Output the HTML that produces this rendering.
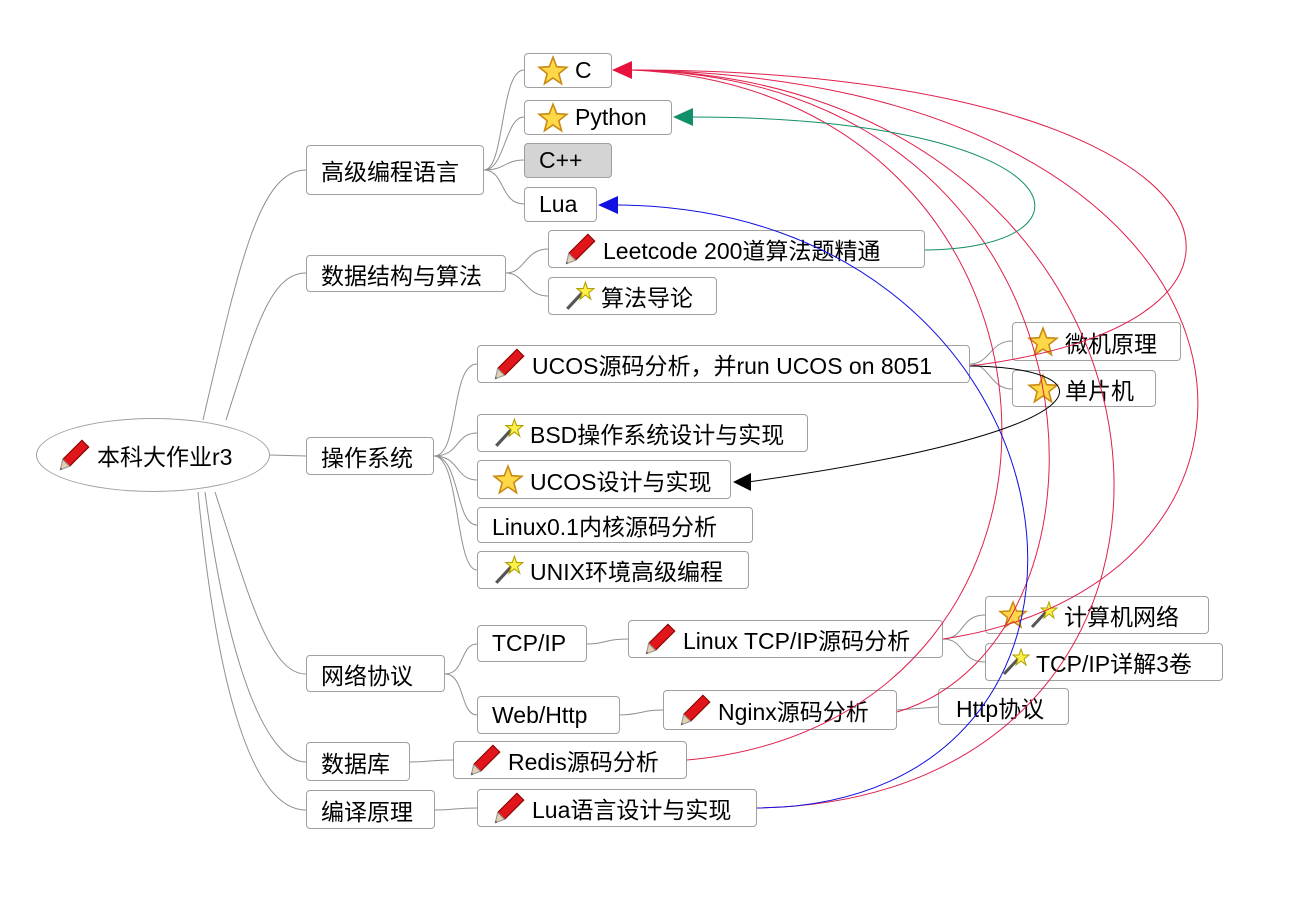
<!DOCTYPE html>
<html><head><meta charset="utf-8">
<style>
body{margin:0;width:1307px;height:911px;background:#fff;position:relative;overflow:hidden;font-family:"Liberation Sans","Noto Sans CJK SC",sans-serif;}
.b{position:absolute;box-sizing:border-box;border:1px solid #a0a0a0;border-radius:4px;background:#fff;font-size:23px;color:#000;display:flex;align-items:center;padding-left:14px;white-space:nowrap;}
.b svg{margin-right:6px;flex:none}
.g{background:#d4d4d4}
svg.l{position:absolute;left:0;top:0}
</style></head><body>
<svg width="0" height="0" style="position:absolute">
<defs>
<symbol id="star" viewBox="0 0 30 30"><polygon points="15,2 18.5,11 28,11.5 20.5,17.5 23,27 15,21.5 7,27 9.5,17.5 2,11.5 11.5,11" fill="#ffd84a" stroke="#c98a10" stroke-width="1.5"/></symbol>
<symbol id="pen" viewBox="0 0 30 30"><polygon points="22,2 28,8 11,25 5,19" fill="#e0161a" stroke="#8a0000"/><polygon points="5,19 11,25 3,28" fill="#e8d0b0" stroke="#999"/><polygon points="3,26 4.5,27.5 3,28" fill="#333"/></symbol>
<symbol id="wand" viewBox="0 0 30 30"><line x1="4" y1="27" x2="18" y2="12" stroke="#555" stroke-width="3"/><polygon points="21,2 23,8 29,8 24,12 26,18 21,14 16,18 18,12 13,8 19,8" fill="#fff04a" stroke="#b0a000"/></symbol>
</defs></svg>
<svg class="l" width="1307" height="911" fill="none" stroke="#909090" stroke-width="1">
<path d="M203,420 C240,260 260,170 306,170"/>
<path d="M226,420 C255,330 270,273 306,273"/>
<path d="M270,455 L306,456"/>
<path d="M215,492 C250,600 270,674 306,674"/>
<path d="M205,492 C230,680 270,762 306,762"/>
<path d="M198,492 C220,720 260,810 306,810"/>
<path d="M484,170 C505,170 500,70 524,70"/><path d="M484,170 C505,170 505,117 524,117"/><path d="M484,170 C505,170 505,160 524,160"/><path d="M484,170 C505,170 500,204 524,204"/>
<path d="M506,273 C525,273 525,249 548,249"/><path d="M506,273 C525,273 525,296 548,296"/>
<path d="M434,456 C460,456 450,364 477,364"/><path d="M434,456 C460,456 455,433 477,433"/><path d="M434,456 C460,456 455,480 477,480"/><path d="M434,456 C460,456 455,525 477,525"/><path d="M434,456 C460,456 455,570 477,570"/>
<path d="M445,674 C465,674 460,644 477,644"/><path d="M445,674 C465,674 460,715 477,715"/>
<path d="M587,644 C605,644 605,639 628,639"/><path d="M620,715 C640,715 640,710 663,710"/>
<path d="M943,639 C965,639 960,615 985,615"/><path d="M943,639 C965,639 960,662 985,662"/>
<path d="M897,710 L938,707"/>
<path d="M970,364 C990,364 990,341 1012,341"/><path d="M970,364 C990,364 990,389 1012,389"/>
<path d="M410,762 C430,762 430,760 453,760"/><path d="M435,810 C455,810 455,808 477,808"/>
</svg>
<div class="b" style="left:36px;top:418px;width:234px;height:74px;border-radius:50%;padding-left:20px;"><svg width="34" height="34"><use href="#pen"/></svg>本科大作业r3</div>
<div class="b" style="left:306px;top:145px;width:178px;height:50px">高级编程语言</div>
<div class="b" style="left:524px;top:53px;width:88px;height:35px;padding-left:12px"><svg width="32" height="32"><use href="#star"/></svg>C</div>
<div class="b" style="left:524px;top:100px;width:148px;height:35px;padding-left:12px"><svg width="32" height="32"><use href="#star"/></svg>Python</div>
<div class="b g" style="left:524px;top:143px;width:88px;height:35px;padding-left:14px">C++</div>
<div class="b" style="left:524px;top:187px;width:73px;height:35px;padding-left:14px">Lua</div>
<div class="b" style="left:306px;top:255px;width:200px;height:37px">数据结构与算法</div>
<div class="b" style="left:548px;top:230px;width:377px;height:38px"><svg width="34" height="34"><use href="#pen"/></svg>Leetcode 200道算法题精通</div>
<div class="b" style="left:548px;top:277px;width:169px;height:38px"><svg width="32" height="32"><use href="#wand"/></svg>算法导论</div>
<div class="b" style="left:306px;top:437px;width:128px;height:38px">操作系统</div>
<div class="b" style="left:477px;top:345px;width:493px;height:38px"><svg width="34" height="34"><use href="#pen"/></svg>UCOS源码分析，并run UCOS on 8051</div>
<div class="b" style="left:1012px;top:322px;width:169px;height:39px"><svg width="32" height="32"><use href="#star"/></svg>微机原理</div>
<div class="b" style="left:1012px;top:370px;width:144px;height:37px"><svg width="32" height="32"><use href="#star"/></svg>单片机</div>
<div class="b" style="left:477px;top:414px;width:331px;height:38px"><svg width="32" height="32"><use href="#wand"/></svg>BSD操作系统设计与实现</div>
<div class="b" style="left:477px;top:460px;width:254px;height:39px"><svg width="32" height="32"><use href="#star"/></svg>UCOS设计与实现</div>
<div class="b" style="left:477px;top:507px;width:276px;height:36px">Linux0.1内核源码分析</div>
<div class="b" style="left:477px;top:551px;width:272px;height:38px"><svg width="32" height="32"><use href="#wand"/></svg>UNIX环境高级编程</div>
<div class="b" style="left:306px;top:655px;width:139px;height:37px">网络协议</div>
<div class="b" style="left:477px;top:625px;width:110px;height:37px">TCP/IP</div>
<div class="b" style="left:477px;top:696px;width:143px;height:38px">Web/Http</div>
<div class="b" style="left:628px;top:620px;width:315px;height:38px"><svg width="34" height="34"><use href="#pen"/></svg>Linux TCP/IP源码分析</div>
<div class="b" style="left:985px;top:596px;width:224px;height:38px;padding-left:12px"><svg width="30" height="30" style="margin-right:0"><use href="#star"/></svg><svg width="30" height="30"><use href="#wand"/></svg>计算机网络</div>
<div class="b" style="left:985px;top:643px;width:238px;height:38px"><svg width="30" height="30"><use href="#wand"/></svg>TCP/IP详解3卷</div>
<div class="b" style="left:663px;top:690px;width:234px;height:40px"><svg width="34" height="34"><use href="#pen"/></svg>Nginx源码分析</div>
<div class="b" style="left:938px;top:688px;width:131px;height:37px;padding-left:17px">Http协议</div>
<div class="b" style="left:306px;top:742px;width:104px;height:39px">数据库</div>
<div class="b" style="left:453px;top:741px;width:234px;height:38px"><svg width="34" height="34"><use href="#pen"/></svg>Redis源码分析</div>
<div class="b" style="left:306px;top:790px;width:129px;height:39px">编译原理</div>
<div class="b" style="left:477px;top:789px;width:280px;height:38px"><svg width="34" height="34"><use href="#pen"/></svg>Lua语言设计与实现</div>
<svg class="l" width="1307" height="911" fill="none" stroke-width="1">
<g stroke="#e0204a">
<path d="M970,366 C1340,320 1240,70 632,70"/>
<path d="M943,639 C1340,580 1300,80 632,70"/>
<path d="M897,712 C1140,640 1120,80 632,70"/>
<path d="M687,760 C1130,720 1100,90 632,70"/>
<path d="M757,808 C1280,800 1220,80 632,70"/>
</g>
<path d="M757,808 C1170,805 1100,210 618,205" stroke="#1010e0"/>
<path d="M925,250 C1110,248 1080,117 690,117" stroke="#109060"/>
<path d="M970,366 C1110,368 1120,430 748,482" stroke="#000"/>
<polygon points="612,70 632,61 632,79" fill="#e8103c"/>
<polygon points="673,117 693,108 693,126" fill="#10906a"/>
<polygon points="598,205 618,196 618,214" fill="#1010e0"/>
<polygon points="733,482 751,473 751,491" fill="#000"/>
</svg>
</body></html>
